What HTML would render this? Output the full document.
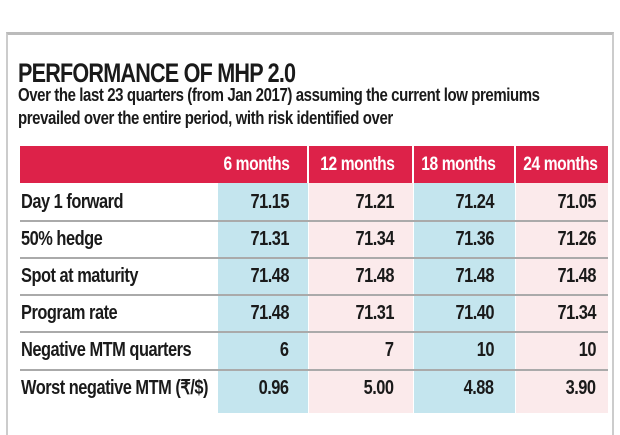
<!DOCTYPE html>
<html><head><meta charset="utf-8"><style>
body{margin:0;width:620px;height:413px;background:#fff;overflow:hidden;position:relative;font-family:"Liberation Sans",sans-serif;color:#1a1a1a}
.box{position:absolute;left:6px;top:32px;width:604px;height:400px;border-top:3px solid #bbb;border-left:2px solid #ccc;border-right:2px solid #ccc}
.t{position:absolute;left:18px;top:58px;font-size:27px;font-weight:bold;letter-spacing:-1px;transform:scaleX(.8);transform-origin:left;white-space:nowrap}
.s{position:absolute;left:18px;font-size:18.3px;font-weight:bold;letter-spacing:-.5px;white-space:nowrap;transform:scaleX(.82);transform-origin:left}
.hdr{position:absolute;left:20px;top:146px;width:588px;height:37px;background:#dd2249}
.col{position:absolute;top:146px;height:267px}
.h{position:absolute;top:146px;height:37px;line-height:37px;color:#fff;font-weight:bold;font-size:19px;text-align:right;letter-spacing:-.5px;white-space:nowrap;transform:scaleX(.82);transform-origin:right}
.sep{position:absolute;top:146px;width:2px;height:37px;background:#fff}
.line{position:absolute;left:20px;width:588px;height:2px;background:#aaa}
.r{position:absolute;font-size:20px;font-weight:bold;letter-spacing:-.6px;height:37px;line-height:37px;white-space:nowrap;transform:scaleX(.82)}
.l{transform-origin:left}
.n{transform-origin:right}
</style></head><body>
<div class="box"></div>
<div class="t">PERFORMANCE OF MHP 2.0</div>
<div class="s" style="top:84px">Over the last 23 quarters (from Jan 2017) assuming the current low premiums</div>
<div class="s" style="top:107px">prevailed over the entire period, with risk identified over</div>
<div class="col" style="left:218px;width:90px;background:#c4e5ee"></div>
<div class="col" style="left:309px;width:104px;background:#fbeaeb"></div>
<div class="col" style="left:414px;width:101px;background:#c4e5ee"></div>
<div class="col" style="left:516px;width:92px;background:#fbeaeb"></div>
<div class="hdr"></div>
<div class="sep" style="left:307px"></div><div class="sep" style="left:412px"></div><div class="sep" style="left:514px"></div>
<div class="h" style="right:331px">6 months</div>
<div class="h" style="right:225px">12 months</div>
<div class="h" style="right:124px">18 months</div>
<div class="h" style="right:22px">24 months</div>
<div class="line" style="top:220px"></div><div class="line" style="top:257px"></div><div class="line" style="top:294px"></div><div class="line" style="top:331px"></div><div class="line" style="top:369px"></div>
<div class="r l" style="left:21px;top:184px">Day 1 forward</div>
<div class="r l" style="left:21px;top:221px">50% hedge</div>
<div class="r l" style="left:21px;top:258px">Spot at maturity</div>
<div class="r l" style="left:21px;top:295px">Program rate</div>
<div class="r l" style="left:21px;top:332px">Negative MTM quarters</div>
<div class="r l" style="left:21px;top:370px">Worst negative MTM (₹/$)</div>
<div class="r n" style="right:331px;top:184px">71.15</div><div class="r n" style="right:226px;top:184px">71.21</div><div class="r n" style="right:126px;top:184px">71.24</div><div class="r n" style="right:24px;top:184px">71.05</div>
<div class="r n" style="right:331px;top:221px">71.31</div><div class="r n" style="right:226px;top:221px">71.34</div><div class="r n" style="right:126px;top:221px">71.36</div><div class="r n" style="right:24px;top:221px">71.26</div>
<div class="r n" style="right:331px;top:258px">71.48</div><div class="r n" style="right:226px;top:258px">71.48</div><div class="r n" style="right:126px;top:258px">71.48</div><div class="r n" style="right:24px;top:258px">71.48</div>
<div class="r n" style="right:331px;top:295px">71.48</div><div class="r n" style="right:226px;top:295px">71.31</div><div class="r n" style="right:126px;top:295px">71.40</div><div class="r n" style="right:24px;top:295px">71.34</div>
<div class="r n" style="right:331px;top:332px">6</div><div class="r n" style="right:226px;top:332px">7</div><div class="r n" style="right:126px;top:332px">10</div><div class="r n" style="right:24px;top:332px">10</div>
<div class="r n" style="right:331px;top:370px">0.96</div><div class="r n" style="right:226px;top:370px">5.00</div><div class="r n" style="right:126px;top:370px">4.88</div><div class="r n" style="right:24px;top:370px">3.90</div>
</body></html>
